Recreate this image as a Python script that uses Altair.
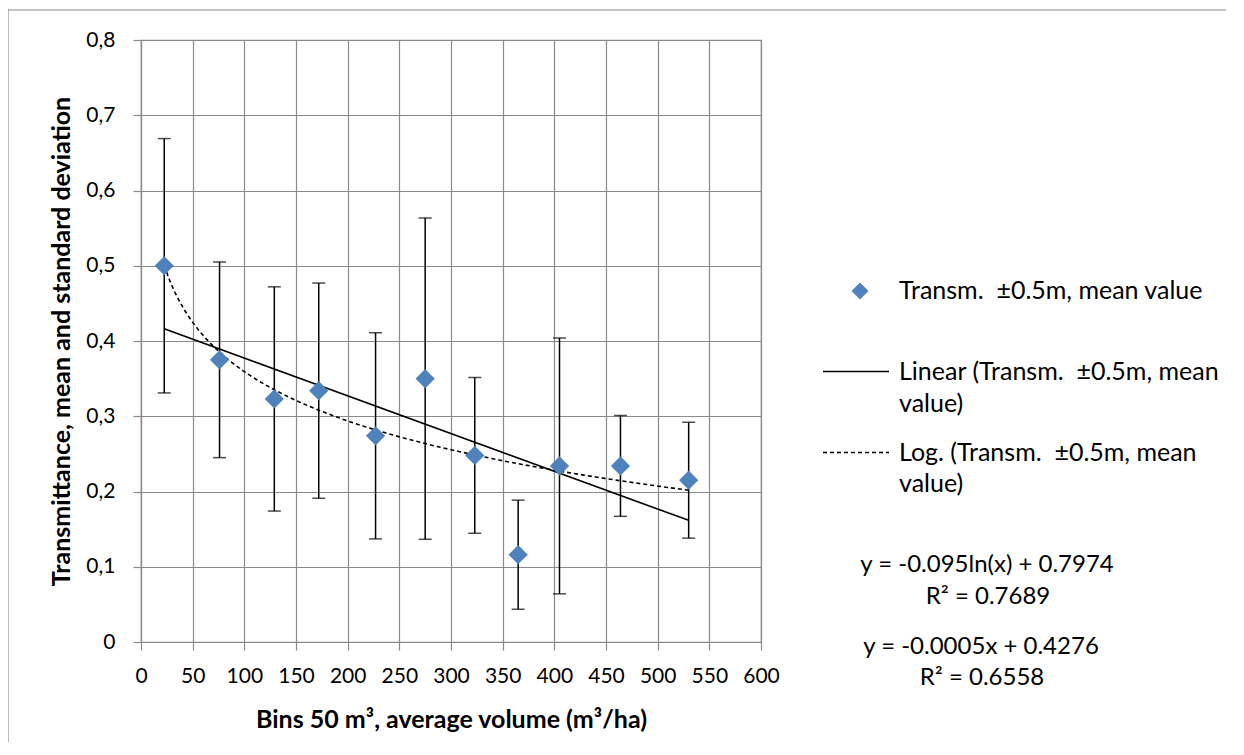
import altair as alt
import pandas as pd

# Data
volume = [22.5, 76, 129, 172, 227, 275, 323, 365, 405, 464, 530]
transm_mean = [0.500, 0.375, 0.323, 0.334, 0.274, 0.350, 0.248, 0.116, 0.234, 0.234, 0.215]
transm_sd = [0.169, 0.130, 0.149, 0.143, 0.137, 0.2135, 0.1035, 0.0725, 0.170, 0.067, 0.077]

x_ticks = list(range(0, 601, 50))
y_ticks = [0, 0.1, 0.2, 0.3, 0.4, 0.5, 0.6, 0.7, 0.8]

SP = "\u00a0 "
legend_main = "Transm." + SP + "\u00b10.5m, mean value"
legend_lin = ["Linear (Transm." + SP + "\u00b10.5m, mean", "value)"]
legend_log = ["Log. (Transm." + SP + "\u00b10.5m, mean", "value)"]
eq_log = ["y = -0.095ln(x) + 0.7974", "R\u00b2 = 0.7689"]
eq_lin = ["y = -0.0005x + 0.4276", "R\u00b2 = 0.6558"]

FONT = "Lato"
BLUE = "#4F81BD"
GRID = "#8a8a8a"

df = pd.DataFrame({
    "x": volume,
    "y": transm_mean,
    "lo": [m - s for m, s in zip(transm_mean, transm_sd)],
    "hi": [m + s for m, s in zip(transm_mean, transm_sd)],
})

xscale = alt.Scale(domain=[0, 600], nice=False, zero=True)
yscale = alt.Scale(domain=[0, 0.8], nice=False)

xaxis = alt.Axis(values=x_ticks, title="Bins 50 m\u00b3, average volume (m\u00b3/ha)",
                 titlePadding=21, labelPadding=15, labelOverlap=False, labelFlush=False)
yaxis = alt.Axis(values=y_ticks, title="Transmittance, mean and standard deviation",
                 labelExpr="datum.value == 0 ? '0' : replace(format(datum.value, '.1f'), '.', ',')",
                 titlePadding=11, labelPadding=18, labelOverlap=False, labelFlush=False)

base = alt.Chart(df)

bars = base.mark_rule(color="black", strokeWidth=1.5).encode(
    x=alt.X("x:Q", scale=xscale, axis=xaxis),
    y=alt.Y("lo:Q", scale=yscale, axis=yaxis),
    y2="hi:Q",
)
cap_hi = base.mark_tick(color="black", orient="horizontal", size=13, thickness=1.5).encode(
    x=alt.X("x:Q", scale=xscale), y=alt.Y("hi:Q", scale=yscale))
cap_lo = base.mark_tick(color="black", orient="horizontal", size=13, thickness=1.5).encode(
    x=alt.X("x:Q", scale=xscale), y=alt.Y("lo:Q", scale=yscale))

lin = base.transform_regression("x", "y", method="linear").mark_line(
    color="black", strokeWidth=1.6).encode(
    x=alt.X("x:Q", scale=xscale), y=alt.Y("y:Q", scale=yscale))
logf = base.transform_regression("x", "y", method="log").mark_line(
    color="black", strokeWidth=1.6, strokeDash=[4, 3]).encode(
    x=alt.X("x:Q", scale=xscale), y=alt.Y("y:Q", scale=yscale))

pts = base.mark_point(shape="diamond", filled=True, size=370, color=BLUE, opacity=1).encode(
    x=alt.X("x:Q", scale=xscale), y=alt.Y("y:Q", scale=yscale))

one = alt.Data(values=[{"a": 1}])

def txt(s, x, y, align="left", size=25):
    return alt.Chart(one).mark_text(text=s, align=align, baseline="middle", font=FONT,
                                    fontSize=size, color="black").encode(
        x=alt.value(x), y=alt.value(y))

legend_layers = [
    alt.Chart(one).mark_point(shape="diamond", filled=True, size=290, color=BLUE, opacity=1).encode(
        x=alt.value(719), y=alt.value(251)),
    txt(legend_main, 758, 251),
    alt.Chart(one).mark_rule(color="black", strokeWidth=1.5).encode(
        x=alt.value(682), x2=alt.value(748), y=alt.value(331.5)),
    txt(legend_lin[0], 758, 331.5),
    txt(legend_lin[1], 758, 364),
    alt.Chart(one).mark_rule(color="black", strokeWidth=1.5, strokeDash=[4, 3]).encode(
        x=alt.value(682), x2=alt.value(748), y=alt.value(412.5)),
    txt(legend_log[0], 758, 412.5),
    txt(legend_log[1], 758, 444),
    txt(eq_log[0], 846, 525, "center", 24),
    txt(eq_log[1], 847, 557, "center", 24),
    txt(eq_lin[0], 840, 606.5, "center", 24),
    txt(eq_lin[1], 841, 638, "center", 24),
]

border_left = alt.Chart(one).mark_rule(stroke="#8c8c8c", strokeWidth=1.2).encode(
    x=alt.value(-133), y=alt.value(-30), y2=alt.value(800))
border_top = alt.Chart(one).mark_rule(stroke="#8c8c8c", strokeWidth=1.2).encode(
    x=alt.value(-133), x2=alt.value(1400), y=alt.value(-30))

chart = alt.layer(border_left, border_top, bars, cap_hi, cap_lo, lin, logf, pts, *legend_layers).properties(
    width=620, height=602,
    autosize=alt.AutoSizeParams(type="none"),
    padding={"left": 133, "top": 32, "right": 465, "bottom": 100},
    background="white",
).configure_view(stroke=GRID, strokeWidth=1.2).configure_axis(
    grid=True, gridColor=GRID, gridWidth=1.2, gridOpacity=1, domainColor=GRID, domainWidth=1.2,
    tickColor=GRID, tickWidth=1.2, tickSize=8,
    labelFont=FONT, labelFontSize=21, labelColor="black",
    titleFont=FONT, titleFontSize=25, titleFontWeight="bold", titleColor="black",
)

chart.save("out.html", embed_options={"renderer": "svg", "actions": False})
